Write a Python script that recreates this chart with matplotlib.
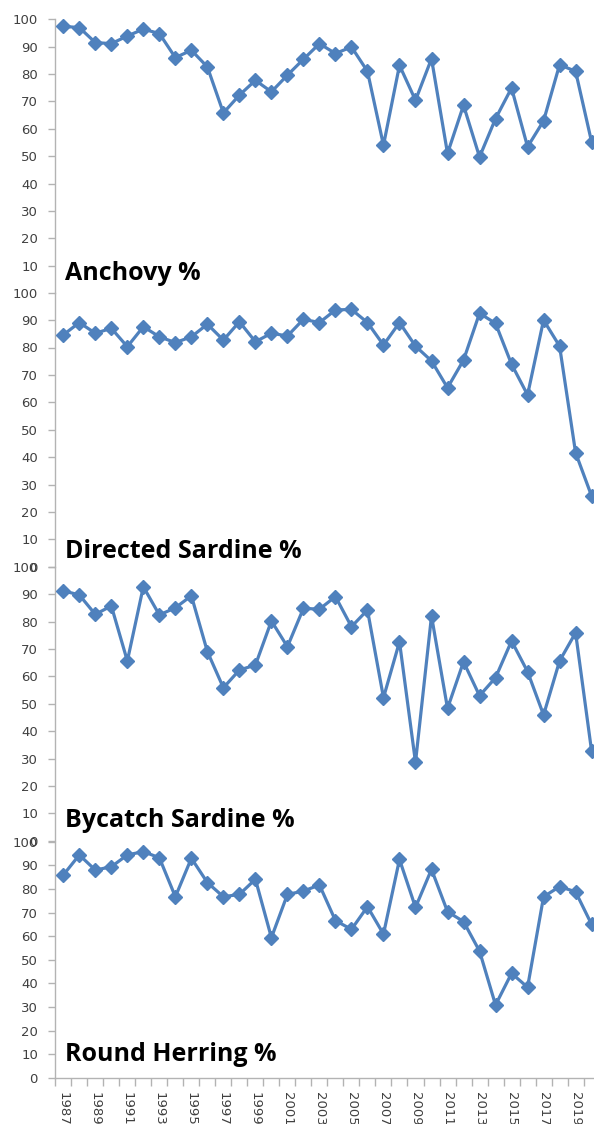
import matplotlib
matplotlib.use("Agg")
import matplotlib.pyplot as plt
from matplotlib.ticker import FixedLocator, NullFormatter

years = list(range(1987, 2021))
year_labels = [str(y) for y in range(1987, 2021, 2)]

anchovy = [97.4, 97.0, 91.5, 91.1, 93.9, 96.4, 94.8, 86.0, 88.7, 82.6,
           65.8, 72.3, 77.7, 73.5, 79.6, 85.4, 91.1, 87.5, 89.9, 81.0,
           54.0, 83.2, 70.4, 85.6, 51.0, 68.6, 49.7, 63.7, 74.9, 53.4,
           62.9, 83.4, 81.0, 55.2]
directed_sardine = [84.6, 89.1, 85.2, 87.0, 80.3, 87.6, 83.9, 81.8, 83.9, 88.5,
                    82.7, 89.4, 82.1, 85.2, 84.2, 90.3, 89.1, 93.7, 93.9, 89.1,
                    80.9, 89.1, 80.5, 75.1, 65.3, 75.4, 92.5, 88.8, 73.9, 62.7,
                    90.0, 80.5, 41.6, 25.8]
bycatch_sardine = [91.2, 89.7, 82.6, 85.7, 65.6, 92.7, 82.4, 85.0, 89.4, 69.0,
                   55.8, 62.3, 64.1, 80.2, 70.8, 84.8, 84.5, 89.1, 78.1, 84.2,
                   52.2, 72.6, 28.6, 82.0, 48.3, 65.3, 52.9, 59.5, 72.9, 61.7,
                   45.9, 65.6, 75.9, 32.7]
round_herring = [85.9, 94.4, 88.0, 89.4, 94.4, 95.8, 93.2, 76.7, 93.0, 82.7,
                 76.7, 77.7, 84.1, 59.4, 77.7, 79.1, 81.7, 66.6, 62.9, 72.5,
                 60.9, 92.5, 72.2, 88.3, 70.4, 66.2, 53.7, 30.9, 44.3, 38.4,
                 76.7, 81.0, 78.8, 65.0]

titles = ["Anchovy %", "Directed Sardine %", "Bycatch Sardine %", "Round Herring %"]
series = [anchovy, directed_sardine, bycatch_sardine, round_herring]
title_y = [4.7, 3.2, 5.1, 7.3]

W, H = 594, 1124
fig = plt.figure(figsize=(W / 100, H / 100), dpi=100)

# panel pixel extents (y of 100, y of 0)
panels_px = [(19.3, 293.0), (292.7, 566.7), (566.7, 840.7), (841.7, 1078.0)]
left_px, width_px = 55.3, 544.3

LINE = "#4F81BD"
AXIS = "#B3B3B3"
TXT = "#404040"
TICKFS = 9.5

x = list(range(len(years)))
for i, ((y100, y0), vals, title, ty) in enumerate(zip(panels_px, series, titles, title_y)):
    ax = fig.add_axes([left_px / W, 1 - y0 / H, width_px / W, (y0 - y100) / H])
    ax.patch.set_alpha(0)
    ax.plot(x, vals, color=LINE, lw=2.3, marker="D", markersize=7,
            markerfacecolor=LINE, markeredgecolor=LINE, clip_on=False, zorder=3)
    ax.set_xlim(-0.5, len(years) - 0.5)
    ax.set_ylim(0, 100)
    if i == 0:
        ax.set_yticks(range(10, 101, 10))
    else:
        ax.set_yticks(range(0, 101, 10))
    ax.tick_params(axis="y", direction="out", length=5, width=1, color=AXIS,
                   labelsize=TICKFS, labelcolor=TXT, pad=7.5)
    for s in ("top", "right"):
        ax.spines[s].set_visible(False)
    ax.spines["left"].set_color(AXIS)
    ax.spines["left"].set_linewidth(1)
    if i < 3:
        ax.spines["bottom"].set_visible(False)
        ax.set_xticks([])
    else:
        ax.spines["bottom"].set_color(AXIS)
        ax.spines["bottom"].set_linewidth(1)
        ax.xaxis.set_major_locator(FixedLocator([k - 0.5 for k in range(len(years) + 1)]))
        ax.xaxis.set_major_formatter(NullFormatter())
        ax.xaxis.set_minor_locator(FixedLocator(list(range(0, len(years), 2))))
        ax.set_xticklabels(year_labels, minor=True, rotation=-90, fontsize=TICKFS,
                           color=TXT, va="top", ha="center")
        ax.tick_params(axis="x", which="major", direction="out", length=6,
                       width=1, color=AXIS)
        ax.tick_params(axis="x", which="minor", length=0, pad=10)
    ax.text(0.1, ty, title, fontsize=18, fontweight="bold", family=["Open Sans", "DejaVu Sans"],
            color="black", ha="left", va="baseline", zorder=4)

fig.savefig("out.png", dpi=100)
